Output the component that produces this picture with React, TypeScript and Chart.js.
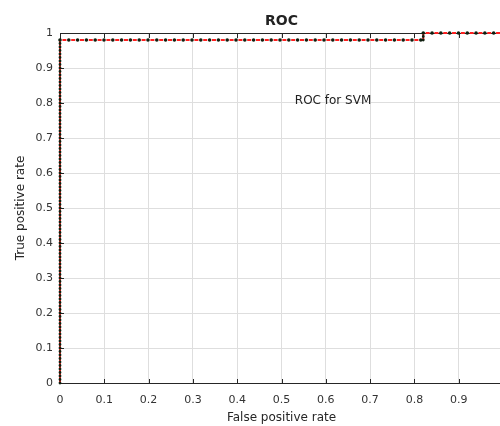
import { useEffect, useRef } from 'react';
import { Chart, registerables } from 'chart.js';

Chart.register(...registerables);

// ROC curve corner points (false positive rate, true positive rate)
const falsePositiveRate = [0, 0, 0.82, 0.82, 1];
const truePositiveRate = [0, 0.98, 0.98, 1, 1];

const xTickLabels = ['0', '0.1', '0.2', '0.3', '0.4', '0.5', '0.6', '0.7', '0.8', '0.9', '1'];
const yTickLabels = ['0', '0.1', '0.2', '0.3', '0.4', '0.5', '0.6', '0.7', '0.8', '0.9', '1'];

const chartTitle = 'ROC';
const xAxisTitle = 'False positive rate';
const yAxisTitle = 'True positive rate';
const annotationText = 'ROC for SVM';
const annotationX = 0.53;
const annotationY = 0.807;

const FONT = "'DejaVu Sans', 'Liberation Sans', sans-serif";
const AXIS_COLOR = '#262626';

const matlabAxes = {
  id: 'matlabAxes',
  beforeDatasetsDraw(chart: any) {
    const { ctx, chartArea: a, scales } = chart;
    const x = scales.x;
    const y = scales.y;
    ctx.save();
    ctx.strokeStyle = AXIS_COLOR;
    ctx.lineWidth = 1;
    ctx.beginPath();
    ctx.moveTo(a.left, a.top + 0.5);
    ctx.lineTo(a.right, a.top + 0.5);
    x.ticks.forEach((t: any) => {
      const px = Math.round(x.getPixelForValue(t.value)) + 0.5;
      ctx.moveTo(px, a.bottom);
      ctx.lineTo(px, a.bottom - 4);
      ctx.moveTo(px, a.top);
      ctx.lineTo(px, a.top + 5);
    });
    y.ticks.forEach((t: any) => {
      const py = Math.round(y.getPixelForValue(t.value)) + 0.5;
      ctx.moveTo(a.left, py);
      ctx.lineTo(a.left + 4, py);
    });
    ctx.stroke();
    ctx.restore();
  },
  afterDraw(chart: any) {
    const { ctx, chartArea: a, scales } = chart;
    ctx.save();
    ctx.fillStyle = '#222222';
    ctx.font = `bold 14px ${FONT}`;
    ctx.textAlign = 'center';
    ctx.textBaseline = 'middle';
    ctx.fillText(chartTitle, (a.left + a.right) / 2, 21);
    ctx.font = `12px ${FONT}`;
    ctx.textAlign = 'left';
    ctx.fillText(
      annotationText,
      scales.x.getPixelForValue(annotationX),
      scales.y.getPixelForValue(annotationY)
    );
    ctx.restore();
  },
};

export default function App() {
  const ref = useRef<HTMLCanvasElement | null>(null);

  useEffect(() => {
    const canvas = ref.current;
    if (!canvas) return;
    const points = falsePositiveRate.map((v, i) => ({ x: v, y: truePositiveRate[i] }));
    const isVertical = (c: any) => c.p0.parsed.x === c.p1.parsed.x;
    const chart = new Chart(canvas, {
      type: 'line',
      data: {
        datasets: [
          {
            data: points,
            order: 0,
            borderColor: '#0f1f0f',
            borderWidth: 3.6,
            borderCapStyle: 'round',
            borderDash: [0, 8.8],
            pointRadius: 0,
            fill: false,
            clip: false as any,
            segment: {
              borderDash: (c: any) => (isVertical(c) ? [0, 3.5] : undefined),
              borderWidth: (c: any) => (isVertical(c) ? 2.8 : undefined),
            },
          },
          {
            data: points,
            order: 1,
            borderColor: '#ff2020',
            borderWidth: 2,
            borderDash: [4, 4.8],
            borderDashOffset: 6.4,
            pointRadius: 0,
            fill: false,
            clip: false as any,
            segment: {
              borderDash: (c: any) => (isVertical(c) ? [] : undefined),
            },
          },
        ],
      },
      options: {
        animation: false,
        responsive: false,
        devicePixelRatio: 1,
        layout: { padding: { top: 33, right: 17, left: 0, bottom: 0 } },
        plugins: {
          legend: { display: false },
          tooltip: { enabled: false },
          title: { display: false },
        },
        scales: {
          x: {
            type: 'linear',
            min: 0,
            max: 1,
            afterFit: (s: any) => {
              s.height = 43;
            },
            ticks: {
              stepSize: 0.1,
              padding: 11,
              maxRotation: 0,
              autoSkip: false,
              color: '#333333',
              font: { family: FONT, size: 11 },
              callback: (v: any) => xTickLabels[Math.round(Number(v) * 10)],
            },
            grid: { color: '#dedede', lineWidth: 1, drawTicks: false },
            border: { color: AXIS_COLOR, width: 1 },
            title: {
              display: true,
              text: xAxisTitle,
              color: '#262626',
              font: { family: FONT, size: 12 },
              padding: { top: 0, bottom: 1 },
            },
          },
          y: {
            type: 'linear',
            min: 0,
            max: 1,
            afterFit: (s: any) => {
              s.width = 60;
            },
            ticks: {
              stepSize: 0.1,
              padding: 7,
              autoSkip: false,
              color: '#333333',
              font: { family: FONT, size: 11 },
              callback: (v: any) => yTickLabels[Math.round(Number(v) * 10)],
            },
            grid: { color: '#dedede', lineWidth: 1, drawTicks: false },
            border: { color: AXIS_COLOR, width: 1 },
            title: {
              display: true,
              text: yAxisTitle,
              color: '#262626',
              font: { family: FONT, size: 12 },
              padding: { top: 14, bottom: 0 },
            },
          },
        },
      },
      plugins: [matlabAxes],
    } as any);
    return () => chart.destroy();
  }, []);

  return (
    <div
      style={{
        position: 'absolute',
        left: 0,
        top: 0,
        width: 500,
        height: 426,
        overflow: 'hidden',
        background: '#ffffff',
      }}
    >
      <canvas ref={ref} width={520} height={426} style={{ display: 'block' }} />
    </div>
  );
}
